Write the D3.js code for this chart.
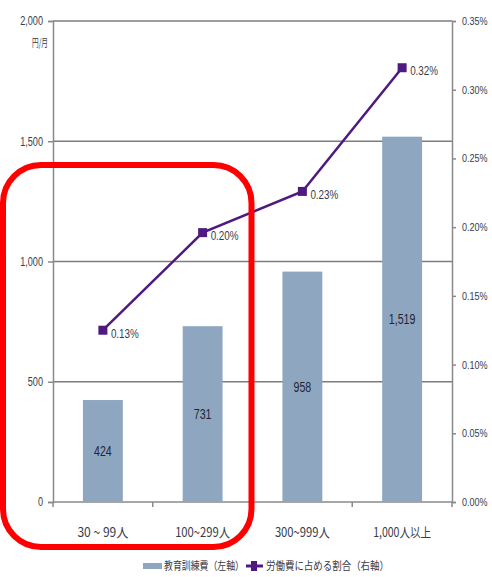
<!DOCTYPE html>
<html>
<head>
<meta charset="utf-8">
<script src="https://cdn.jsdelivr.net/npm/d3@7"></script>
<style>
body { margin: 0; background: #fff; }
text { font-family: "Liberation Sans Narrow", "Arial Narrow", "Liberation Sans", sans-serif; fill: #363c4a; }
.jp { font-family: "Noto Sans CJK JP", sans-serif; }
</style>
</head>
<body>
<div id="chartContainer"></div>
<script>
const categories = ['30 ~ 99人', '100~299人', '300~999人', '1,000人以上'];
const trainingCost = [424, 731, 958, 1519];
const laborShare = [0.125, 0.196, 0.226, 0.316];
const leftTicks = [0, 500, 1000, 1500, 2000];
const rightTicks = [0, 0.05, 0.10, 0.15, 0.20, 0.25, 0.30, 0.35];
const legendLabels = ['教育訓練費（左軸）', '労働費に占める割合（右軸）'];
const unitLabel = '円/月';

const barColor = '#8ea6c0';
const lineColor = '#4e1a80';
const axisColor = '#8a8a8a';

const margin = { top: 21, right: 40, bottom: 75, left: 53 };
const width = 492 - margin.left - margin.right;
const height = 577 - margin.top - margin.bottom;

const root = d3.select('#chartContainer')
    .append('svg')
    .attr('width', 492)
    .attr('height', 577);

const svg = root.append('g')
    .attr('transform', `translate(${margin.left},${margin.top})`);

const x = d3.scaleBand()
    .domain(categories)
    .range([0, width])
    .paddingInner(0.6)
    .paddingOuter(0.3);

const yLeft = d3.scaleLinear().domain([0, 2000]).range([height, 0]);
const yRight = d3.scaleLinear().domain([0, 0.35]).range([height, 0]);

const pct = d => d.toFixed(2) + '%';

// gridlines (incl. top border)
svg.selectAll('.grid')
    .data(leftTicks.slice(1))
    .enter()
    .append('line')
    .attr('x1', 0)
    .attr('x2', width)
    .attr('y1', d => yLeft(d))
    .attr('y2', d => yLeft(d))
    .attr('stroke', '#7d7d7d')
    .attr('stroke-width', 1.5);

// left axis
const leftAxis = svg.append('g')
    .call(d3.axisLeft(yLeft).tickValues(leftTicks).tickSize(5).tickPadding(5).tickFormat(d3.format(',')));
leftAxis.selectAll('path, line').attr('stroke', axisColor).attr('stroke-width', 1.5);
leftAxis.selectAll('text').attr('font-size', 12).attr('class', 'num');
leftAxis.attr('font-family', null);

// right axis
const rightAxis = svg.append('g')
    .attr('transform', `translate(${width},0)`)
    .call(d3.axisRight(yRight).tickValues(rightTicks).tickSize(4).tickPadding(6).tickFormat(pct));
rightAxis.selectAll('path, line').attr('stroke', axisColor).attr('stroke-width', 1.5);
rightAxis.selectAll('text').attr('font-size', 11).attr('class', 'num narrow');
rightAxis.attr('font-family', null);

// bottom axis with ticks between categories
svg.append('line')
    .attr('x1', 0).attr('x2', width)
    .attr('y1', height).attr('y2', height)
    .attr('stroke', axisColor).attr('stroke-width', 1.5);

svg.selectAll('.xtick')
    .data(d3.range(categories.length + 1))
    .enter()
    .append('line')
    .attr('x1', i => i * x.step())
    .attr('x2', i => i * x.step())
    .attr('y1', height)
    .attr('y2', height + 5)
    .attr('stroke', axisColor)
    .attr('stroke-width', 1.5);

svg.selectAll('.xlabel')
    .data(categories)
    .enter()
    .append('text')
    .attr('class', 'jp')
    .attr('x', d => x(d) + x.bandwidth() / 2)
    .attr('y', height + 35)
    .attr('text-anchor', 'middle')
    .attr('font-size', 13)
    .attr('textLength', (d, i) => [51, 55, 55, 58][i])
    .attr('lengthAdjust', 'spacingAndGlyphs')
    .text(d => d);

// unit label
svg.append('text')
    .attr('class', 'jp')
    .attr('x', -5)
    .attr('y', 26)
    .attr('text-anchor', 'end')
    .attr('font-size', 11)
    .attr('textLength', 16)
    .attr('lengthAdjust', 'spacingAndGlyphs')
    .text(unitLabel);

// bars
svg.selectAll('.bar')
    .data(trainingCost)
    .enter()
    .append('rect')
    .attr('x', (d, i) => x(categories[i]))
    .attr('y', d => yLeft(d))
    .attr('width', x.bandwidth())
    .attr('height', d => height - yLeft(d))
    .attr('fill', barColor);

svg.selectAll('.barlabel')
    .data(trainingCost)
    .enter()
    .append('text')
    .attr('class', 'num')
    .attr('x', (d, i) => x(categories[i]) + x.bandwidth() / 2)
    .attr('y', d => (yLeft(d) + height) / 2)
    .attr('dy', '0.35em')
    .attr('text-anchor', 'middle')
    .attr('font-size', 14)
    .style('fill', '#1f2633')
    .text(d3.format(','));

// line
const cx = i => x(categories[i]) + x.bandwidth() / 2;

svg.append('path')
    .datum(laborShare)
    .attr('fill', 'none')
    .attr('stroke', lineColor)
    .attr('stroke-width', 2.5)
    .attr('d', d3.line()
        .x((d, i) => cx(i))
        .y(d => yRight(d)));

svg.selectAll('.marker')
    .data(laborShare)
    .enter()
    .append('rect')
    .attr('x', (d, i) => cx(i) - 4.5)
    .attr('y', d => yRight(d) - 4.5)
    .attr('width', 9)
    .attr('height', 9)
    .attr('fill', lineColor);

svg.selectAll('.pointlabel')
    .data(laborShare)
    .enter()
    .append('text')
    .attr('class', 'num')
    .attr('x', (d, i) => cx(i) + 8)
    .attr('y', d => yRight(d) + 3)
    .attr('dy', '0.35em')
    .attr('font-size', 13)
    .text(pct);

// squeeze latin text to mimic the narrow font of the original
root.selectAll('text.num').each(function() {
    const len = this.getComputedTextLength();
    const k = this.classList.contains('narrow') ? 0.82 : 0.76;
    d3.select(this)
        .attr('textLength', len * k)
        .attr('lengthAdjust', 'spacingAndGlyphs');
});

// red highlight frame around the first two categories
root.append('rect')
    .attr('x', 3)
    .attr('y', 165)
    .attr('width', margin.left + 2 * x.step() - 4)
    .attr('height', 382)
    .attr('rx', 38)
    .attr('fill', 'none')
    .attr('stroke', '#ff0000')
    .attr('stroke-width', 6);

// legend
const legend = root.append('g').attr('transform', 'translate(143,566)');
legend.append('rect')
    .attr('x', 0).attr('y', -3)
    .attr('width', 19).attr('height', 6)
    .attr('fill', barColor);
legend.append('text')
    .attr('class', 'jp')
    .attr('x', 21).attr('y', 0).attr('dy', '0.35em')
    .attr('font-size', 11)
    .attr('textLength', 80)
    .attr('lengthAdjust', 'spacingAndGlyphs')
    .text(legendLabels[0]);
legend.append('line')
    .attr('x1', 103).attr('x2', 120)
    .attr('y1', 0).attr('y2', 0)
    .attr('stroke', lineColor).attr('stroke-width', 3);
legend.append('rect')
    .attr('x', 108).attr('y', -5)
    .attr('width', 6).attr('height', 10)
    .attr('fill', lineColor);
legend.append('text')
    .attr('class', 'jp')
    .attr('x', 123).attr('y', 0).attr('dy', '0.35em')
    .attr('font-size', 11)
    .attr('textLength', 123)
    .attr('lengthAdjust', 'spacingAndGlyphs')
    .text(legendLabels[1]);
</script>
</body>
</html>
